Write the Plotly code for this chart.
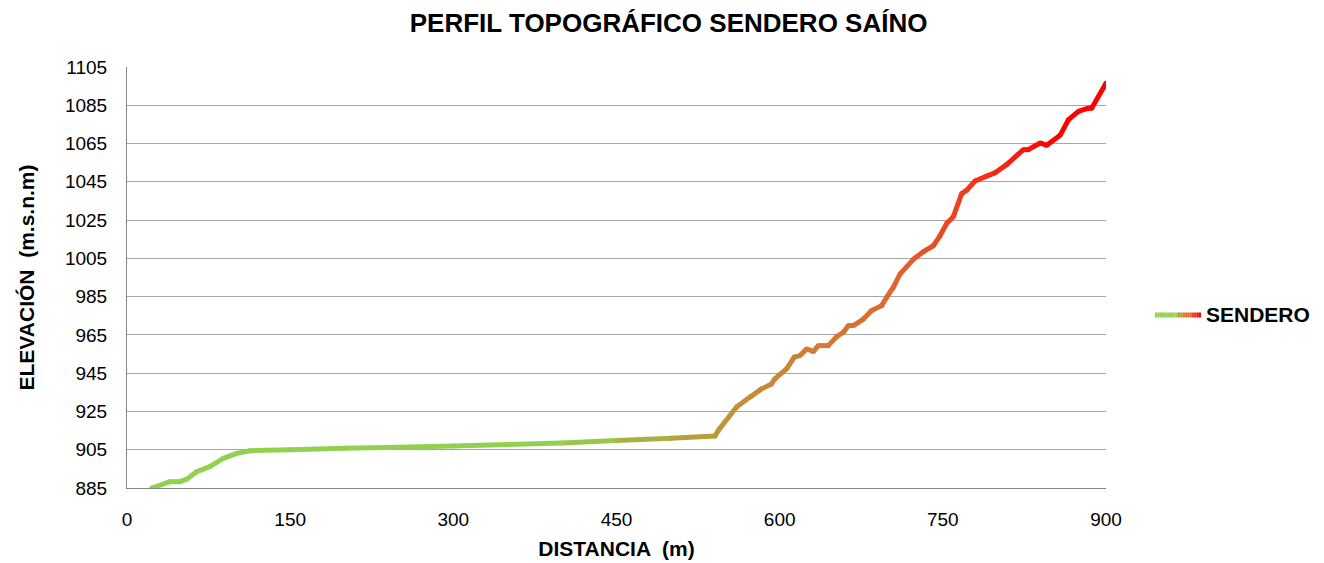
import plotly.graph_objects as go

# ---- data ----
distancia = [22.7, 39.5, 48.7, 54.9, 64.0, 76.2, 88.5, 100.8, 113.0, 150, 200, 250, 300, 350, 400,
             450, 500, 540.6, 543.6, 560.4, 572.7, 583.4, 592.6, 595.5, 606.4, 613.4, 618.7, 624.9,
             630.9, 635.5, 644.7, 652.4, 658.6, 663.2, 667.8, 677.0, 684.6, 693.8, 698.4, 704.5,
             710.6, 722.9, 732.1, 741.3, 747.4, 753.6, 759.7, 767.3, 771.9, 779.6, 790.3, 798.0,
             808.7, 824.0, 828.6, 839.4, 845.5, 857.8, 865.4, 874.6, 883.8, 886.8, 900.0]
elevacion = [885.0, 888.3, 888.3, 889.6, 893.5, 896.2, 900.5, 903.1, 904.5, 905.0, 905.8, 906.3,
             907.0, 907.7, 908.5, 909.8, 911.0, 912.2, 915.1, 927.3, 932.5, 936.8, 939.4, 942.0,
             947.3, 953.4, 954.2, 957.7, 956.3, 959.4, 959.4, 964.1, 966.4, 969.9, 969.9, 973.3,
             977.7, 980.3, 984.7, 989.9, 996.8, 1004.5, 1008.5, 1011.6, 1016.8, 1023.3, 1026.8,
             1038.8, 1040.6, 1045.4, 1048.0, 1049.7, 1054.0, 1061.8, 1061.8, 1065.3, 1064.1,
             1069.3, 1077.4, 1081.8, 1083.5, 1083.5, 1096.5]
x_ticks = [0, 150, 300, 450, 600, 750, 900]
y_ticks = [885, 905, 925, 945, 965, 985, 1005, 1025, 1045, 1065, 1085, 1105]
serie = "SENDERO"

# ---- styling: gradient stops along the distance axis ----
stops = [(0, (146, 208, 80)), (400, (146, 208, 80)), (540, (188, 152, 58)),
         (700, (222, 105, 48)), (800, (245, 40, 25)), (850, (255, 0, 0)), (900, (255, 0, 0))]


def grad(xv):
    for (x0, c0), (x1, c1) in zip(stops[:-1], stops[1:]):
        if x0 <= xv <= x1:
            t = (xv - x0) / (x1 - x0) if x1 > x0 else 0
            return "rgb(%d,%d,%d)" % tuple(round(a + (b - a) * t) for a, b in zip(c0, c1))
    return "rgb(255,0,0)"


FONT = "Liberation Sans, Arial"
fig = go.Figure()
LW = 5
for i in range(len(distancia) - 1):
    xs = [distancia[i], distancia[i + 1]]
    ys = [elevacion[i], elevacion[i + 1]]
    fig.add_trace(go.Scatter(x=xs, y=ys, mode="lines",
                             line=dict(color=grad((xs[0] + xs[1]) / 2), width=LW),
                             showlegend=False, hoverinfo="skip"))
fig.add_trace(go.Scatter(x=distancia, y=elevacion, mode="markers", name=serie,
                         marker=dict(size=LW, color=[grad(v) for v in distancia], line=dict(width=0)),
                         showlegend=False))

# legend drawn manually (gradient sample)
shapes = []
n = 20
lx0, lx1, ly = 1155, 1201, 315
for k in range(n):
    a = lx0 + (lx1 - lx0) * k / n
    b = lx0 + (lx1 - lx0) * (k + 1) / n
    frac = (k + 0.5) / n
    col = grad(900 * (0.45 + 0.55 * frac ** 2) if frac > 0.5 else 0)
    shapes.append(dict(type="line", xref="paper", yref="paper",
                       x0=(a - 127) / 979, x1=(b - 127) / 979,
                       y0=(488 - ly) / 421, y1=(488 - ly) / 421,
                       line=dict(color=col, width=LW)))

fig.update_layout(
    width=1324, height=563,
    margin=dict(l=127, r=218, t=67, b=75),
    paper_bgcolor="white", plot_bgcolor="white",
    title=dict(text="<b>PERFIL TOPOGRÁFICO SENDERO SAÍNO</b>", x=0.505, xanchor="center",
               y=1 - 23 / 563, yanchor="middle", xref="container", yref="container",
               font=dict(family=FONT, size=26, color="black")),
    shapes=shapes,
    annotations=[dict(text="<b>SENDERO</b>", xref="paper", yref="paper",
                      x=(1204 - 127) / 979, y=(488 - 314) / 421, xanchor="left", yanchor="middle",
                      showarrow=False, font=dict(family=FONT, size=21, color="black"))],
    font=dict(family=FONT, color="black"),
)
fig.update_xaxes(range=[0, 900], tickvals=x_ticks, ticktext=[str(v) for v in x_ticks],
                 showgrid=False, zeroline=False, showline=True, linecolor="#868686", linewidth=1,
                 ticks="", ticklabelstandoff=14, tickfont=dict(size=19, family=FONT), automargin=False,
                 title=dict(text="<b>DISTANCIA  (m)</b>", font=dict(size=21), standoff=12))
fig.update_yaxes(range=[885, 1105], tickvals=y_ticks, ticktext=[str(v) for v in y_ticks],
                 showgrid=True, gridcolor="#a6a6a6", gridwidth=1, zeroline=False,
                 showline=True, linecolor="#868686", linewidth=1, ticks="", automargin=False,
                 ticklabelstandoff=15, tickfont=dict(size=19, family=FONT),
                 title=dict(text="<b>ELEVACIÓN  (m.s.n.m)</b>", font=dict(size=21), standoff=24))

fig.write_html("out.html")
